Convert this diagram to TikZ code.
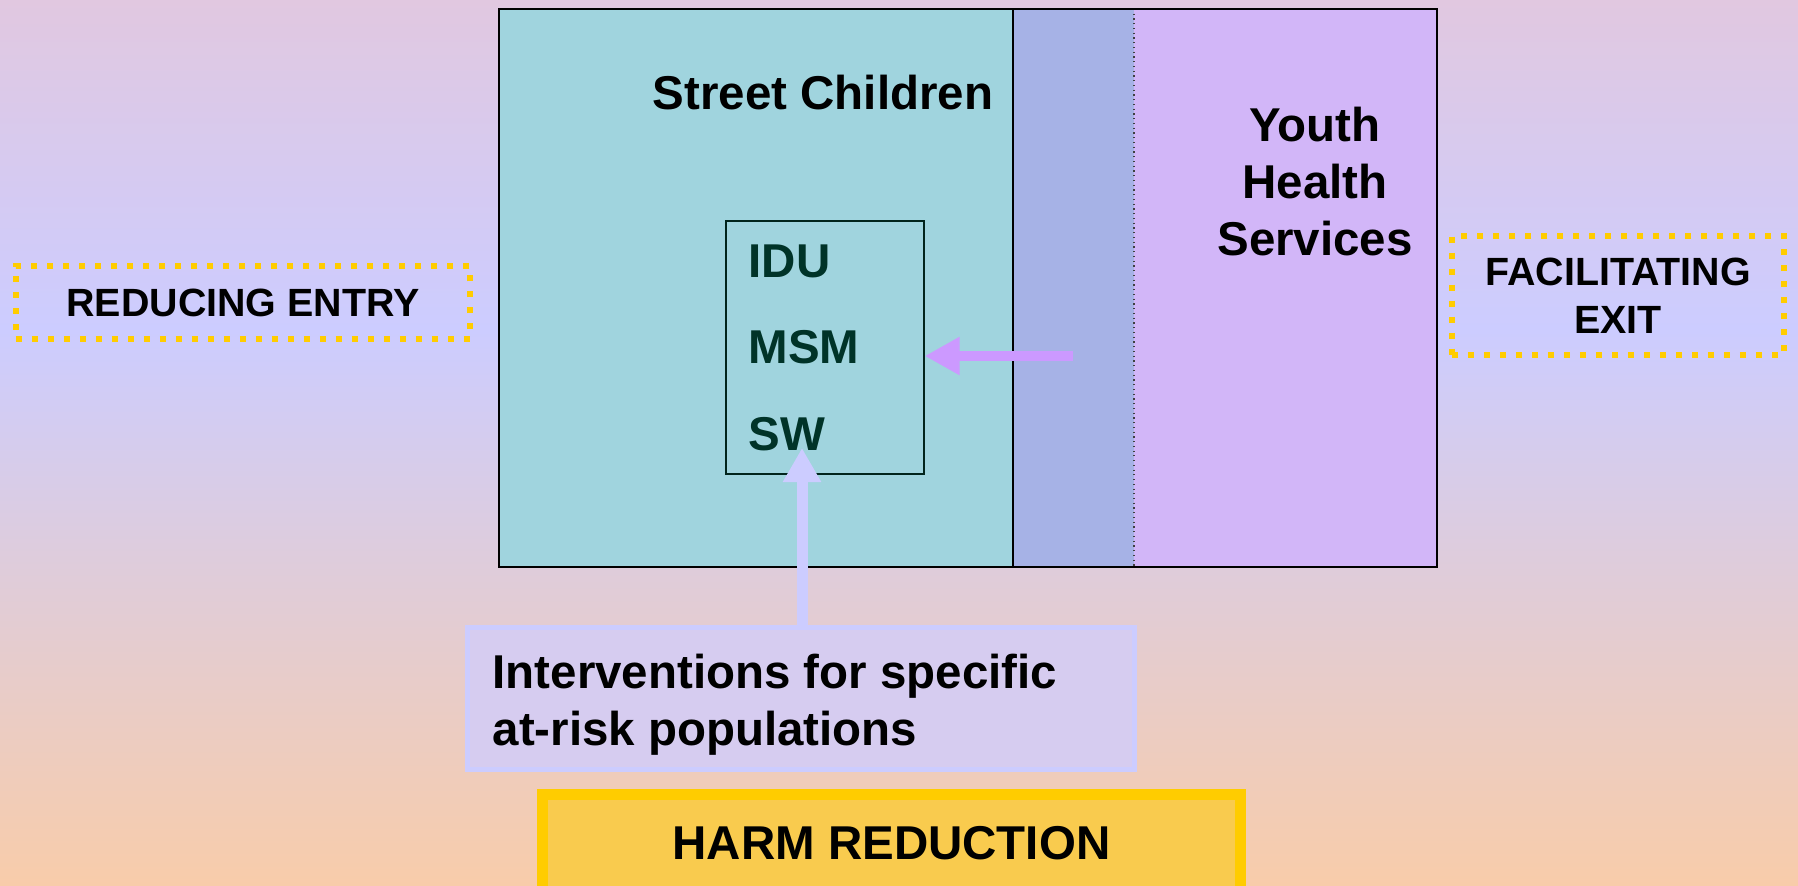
\documentclass[tikz,border=0pt]{standalone}
\usepackage{fontspec}
\setmainfont{Liberation Sans}
\usetikzlibrary{arrows.meta}
\definecolor{bgtop}{RGB}{225,200,224}
\definecolor{bgmid}{RGB}{204,204,255}
\definecolor{bgbot}{RGB}{248,204,170}
\definecolor{tealfill}{RGB}{160,212,222}
\definecolor{stripfill}{RGB}{166,178,230}
\definecolor{purplefill}{RGB}{210,182,248}
\definecolor{dotyellow}{RGB}{255,204,0}
\definecolor{arrowpurple}{RGB}{204,153,255}
\definecolor{arrowlav}{RGB}{204,204,255}
\definecolor{intfill}{RGB}{214,204,240}
\definecolor{harmfill}{RGB}{249,203,78}
\definecolor{darkteal}{RGB}{0,51,40}
\tikzset{
  lbl/.style={font=\fontsize{13.5}{16.2}\selectfont\bfseries, inner sep=0pt},
  poptext/.style={font=\fontsize{13.5}{24.5}\selectfont\bfseries, inner sep=0pt, text=darkteal},
  dotbox/.style={draw=dotyellow, line width=1.7pt, dash pattern=on 1.7pt off 2.85pt,
    font=\fontsize{11.2}{13.7}\selectfont\bfseries, inner sep=0pt},
  popframe/.style={draw=darkteal!70!black, line width=0.45pt, inner sep=0pt},
  intbox/.style={draw=arrowlav, fill=intfill, line width=1.42pt, inner sep=0pt},
  harmbox/.style={draw=dotyellow, fill=harmfill, line width=3.1pt, inner sep=0pt},
  parrow/.style={draw=arrowpurple, line width=1mm, -{Triangle[length=3.5mm,width=3.6mm]}},
  uparrow/.style={draw=arrowlav, line width=1.1mm, -{Triangle[length=3.4mm,width=3.6mm]}}
}
\begin{document}
\begin{tikzpicture}[x=0.01cm,y=-0.01cm]
\useasboundingbox (0,0) rectangle (1798,885);
% background
\shade[top color=bgtop, bottom color=bgmid] (0,0) rectangle (1798,330);
\shade[top color=bgmid, bottom color=bgbot] (0,330) rectangle (1798,885);
% main regions
\fill[tealfill] (499,9) rectangle (1013,567);
\fill[stripfill] (1013,9) rectangle (1134,567);
\fill[purplefill] (1134,9) rectangle (1437,567);
\draw[line width=0.6pt] (1013,9) -- (1013,567);
\draw[line width=0.35pt, densely dotted, black!75] (1134,9) -- (1134,567);
\draw[line width=0.7pt] (499,9) rectangle (1437,567);
% labels in regions
\node[lbl, anchor=base] (street) at (823,110) {Street Children};
\node[lbl, anchor=base, align=center] (youth) at (1315,255) {Youth\\Health\\Services};
% at-risk populations box
\node[popframe, anchor=north west, minimum width=1.98cm, minimum height=2.53cm] (popbox) at (725,220) {};
\node[poptext, anchor=base west, align=left] (pops) at (748,450) {IDU\\MSM\\SW};
% side boxes
\node[dotbox, minimum width=4.54cm, minimum height=0.73cm] (entry) at (243,302.5) {REDUCING ENTRY};
\node[dotbox, minimum width=3.32cm, minimum height=1.19cm, align=center] (exit) at (1618,295.5) {FACILITATING\\EXIT};
% interventions
\node[intbox, anchor=north west, minimum width=6.67cm, minimum height=1.42cm] (interv) at (465,625) {};
\node[lbl, anchor=base west, align=left] (intText) at (492,745) {Interventions for specific\\at-risk populations};
% harm reduction
\node[harmbox, anchor=north west, minimum width=6.98cm, minimum height=1.1cm] (harm) at (537,789) {};
\node[lbl, anchor=base] (harmText) at (891.5,859) {HARM REDUCTION};
% arrows
\coordinate (ptail) at (1073,356);
\coordinate (uptip) at (802,448);
\draw[parrow] (ptail) -- (popbox.east |- ptail);
\draw[uparrow] (interv.north west -| uptip) -- (uptip);
\end{tikzpicture}
\end{document}
